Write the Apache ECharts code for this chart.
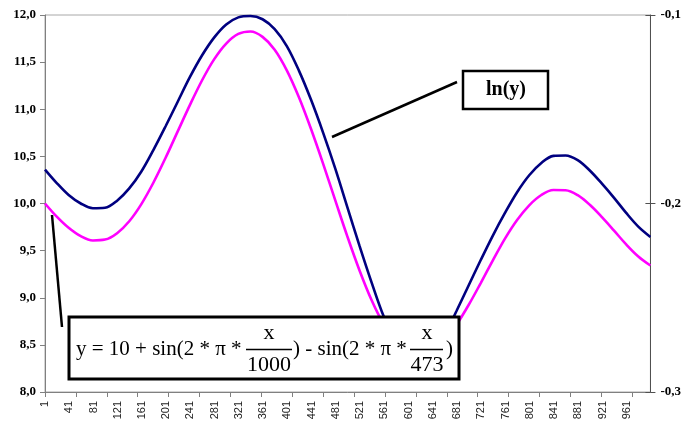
<!DOCTYPE html>
<html>
<head>
<meta charset="utf-8">
<script src="https://cdn.jsdelivr.net/npm/echarts@6/dist/echarts.min.js"></script>
<style>
html,body{margin:0;padding:0;background:#fff;}
#chart{width:684px;height:425px;}
</style>
</head>
<body>
<div id="chart"></div>
<script>
// x positions (categories 1..1000) at which values were read
var sampleX = [1,20,40,60,80,100,120,140,160,180,200,220,240,260,280,300,320,340,360,380,400,
  420,440,460,480,500,520,540,560,580,600,620,640,660,680,700,720,740,760,780,800,
  820,840,860,880,900,920,940,960,980,1000];
// pink series: y
var pinkValues = [10.00,9.863,9.742,9.653,9.608,9.617,9.685,9.812,9.994,10.223,10.485,10.765,11.044,11.305,11.529,11.697,11.799,11.825,11.768,11.632,11.413,
  11.127,10.790,10.421,10.033,9.649,9.290,8.974,8.717,8.529,8.419,8.387,8.432,8.544,8.714,8.923,9.156,9.396,9.627,9.825,9.981,
  10.090,10.143,10.141,10.088,9.986,9.855,9.712,9.566,9.438,9.342];
// blue series: ln(y) (drawn in left-axis units)
var blueValues = [10.36,10.22,10.09,10.00,9.95,9.955,10.03,10.16,10.34,10.57,10.82,11.08,11.34,11.57,11.76,11.90,11.975,11.99,11.955,11.85,11.67,
  11.41,11.10,10.75,10.37,9.96,9.55,9.16,8.80,8.53,8.40,8.37,8.44,8.60,8.86,9.13,9.40,9.66,9.90,10.12,10.30,
  10.43,10.505,10.51,10.46,10.35,10.21,10.06,9.90,9.755,9.645];
var categories = [];
for (var i = 1; i <= 1000; i++) categories.push(String(i));
var leftAxisRange = [8, 12, 0.5];
var rightAxisRange = [-0.3, -0.1, 0.1];

var chart = echarts.init(document.getElementById('chart'));
function comma(v){ return v.toFixed(1).replace('.', ','); }
var serif = '"Liberation Serif", "Times New Roman", serif';
var eqFont = '21px ' + serif;
var fracFont = '22px ' + serif;

var option = {
  animation: false,
  backgroundColor: '#fff',
  grid: {left: 45, right: 32, top: 15, bottom: 33, show: true, borderColor: '#a8a8a8', borderWidth: 1, backgroundColor: 'transparent'},
  xAxis: {
    type: 'category', data: categories, boundaryGap: false,
    axisLine: {lineStyle: {color: '#808080', width: 1}},
    axisTick: {interval: 50, length: 5, lineStyle: {color: '#808080'}},
    axisLabel: {interval: 39, rotate: 90, fontSize: 11, fontFamily: '"Liberation Sans", Arial, sans-serif', color: '#222', margin: 9},
    splitLine: {show: false}
  },
  yAxis: [
    {type: 'value', min: leftAxisRange[0], max: leftAxisRange[1], interval: leftAxisRange[2], position: 'left',
     axisLine: {show: true, lineStyle: {color: '#808080'}},
     axisTick: {show: true, length: 5, lineStyle: {color: '#808080'}},
     axisLabel: {formatter: comma, fontSize: 13, fontWeight: 'bold', fontFamily: serif, color: '#000', margin: 9},
     splitLine: {show: false}},
    {type: 'value', min: rightAxisRange[0], max: rightAxisRange[1], interval: rightAxisRange[2], position: 'right',
     axisLine: {show: true, lineStyle: {color: '#505050'}},
     axisTick: {show: true, length: 5, lineStyle: {color: '#505050'}},
     axisLabel: {formatter: comma, fontSize: 13, fontWeight: 'bold', fontFamily: serif, color: '#000', margin: 10},
     splitLine: {show: false}},
    {type: 'value', min: rightAxisRange[0], max: rightAxisRange[1], interval: rightAxisRange[2], position: 'right',
     axisLine: {show: false},
     axisTick: {show: true, inside: true, length: 5, lineStyle: {color: '#505050'}},
     axisLabel: {show: false},
     splitLine: {show: false}}
  ],
  series: [
    {name: 'ln(y)', type: 'line', yAxisIndex: 0, smooth: 0.35, symbol: 'none', clip: false,
     lineStyle: {color: '#000080', width: 2.6},
     data: sampleX.map(function(x, i){ return [String(x), blueValues[i]]; })},
    {name: 'y', type: 'line', yAxisIndex: 0, smooth: 0.35, symbol: 'none', clip: false,
     lineStyle: {color: '#ff00ff', width: 2.6},
     data: sampleX.map(function(x, i){ return [String(x), pinkValues[i]]; })}
  ],
  graphic: [
    {type: 'line', z: 100, shape: {x1: 332, y1: 137, x2: 457, y2: 82}, style: {stroke: '#000', lineWidth: 2.5}},
    {type: 'rect', z: 100, shape: {x: 463, y: 71, width: 85, height: 38}, style: {fill: '#fff', stroke: '#000', lineWidth: 2.5}},
    {type: 'text', z: 101, style: {text: 'ln(y)', x: 506, y: 90, font: 'bold 20px ' + serif, fill: '#000', textAlign: 'center', textVerticalAlign: 'middle'}},
    {type: 'line', z: 100, shape: {x1: 52, y1: 215, x2: 62, y2: 327}, style: {stroke: '#000', lineWidth: 2.5}},
    {type: 'rect', z: 100, shape: {x: 69, y: 317, width: 390, height: 62}, style: {fill: '#fff', stroke: '#000', lineWidth: 3}},
    {type: 'text', z: 101, style: {text: 'y = 10 + sin(2 * π *', x: 76, y: 349, font: eqFont, fill: '#000', textAlign: 'left', textVerticalAlign: 'middle'}},
    {type: 'text', z: 101, style: {text: 'x', x: 269, y: 333, font: fracFont, fill: '#000', textAlign: 'center', textVerticalAlign: 'middle'}},
    {type: 'line', z: 101, shape: {x1: 246, y1: 349.5, x2: 292, y2: 349.5}, style: {stroke: '#000', lineWidth: 1.3}},
    {type: 'text', z: 101, style: {text: '1000', x: 269, y: 365, font: fracFont, fill: '#000', textAlign: 'center', textVerticalAlign: 'middle'}},
    {type: 'text', z: 101, style: {text: ') - sin(2 * π *', x: 293, y: 349, font: eqFont, fill: '#000', textAlign: 'left', textVerticalAlign: 'middle'}},
    {type: 'text', z: 101, style: {text: 'x', x: 427, y: 333, font: fracFont, fill: '#000', textAlign: 'center', textVerticalAlign: 'middle'}},
    {type: 'line', z: 101, shape: {x1: 410, y1: 349.5, x2: 443, y2: 349.5}, style: {stroke: '#000', lineWidth: 1.3}},
    {type: 'text', z: 101, style: {text: '473', x: 427, y: 365, font: fracFont, fill: '#000', textAlign: 'center', textVerticalAlign: 'middle'}},
    {type: 'text', z: 101, style: {text: ')', x: 446, y: 349, font: eqFont, fill: '#000', textAlign: 'left', textVerticalAlign: 'middle'}}
  ]
};
chart.setOption(option);
</script>
</body>
</html>
